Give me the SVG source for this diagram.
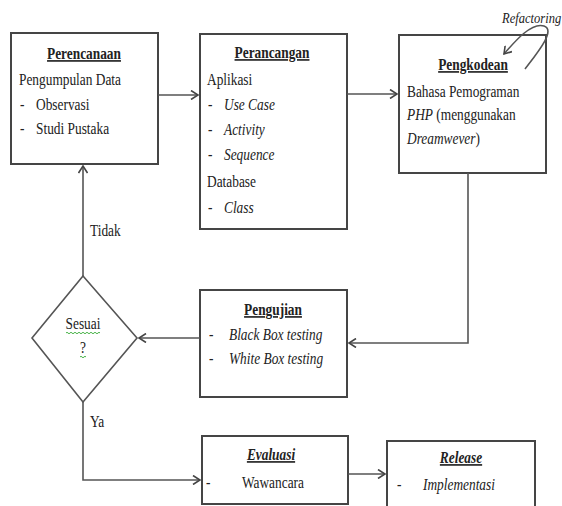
<svg xmlns="http://www.w3.org/2000/svg" width="562" height="506" viewBox="0 0 562 506">
<style>
.box{fill:#fff;stroke:#454545;stroke-width:2}
.ln{fill:none;stroke:#555;stroke-width:1.6}
text{font-family:'Liberation Serif','Times New Roman',serif;font-size:16.5px;fill:#222}
.h{font-weight:bold;text-decoration:underline;text-anchor:middle}
.hi{font-weight:bold;font-style:italic;text-decoration:underline;text-anchor:middle}
.i{font-style:italic}
.c{text-anchor:middle}
</style>
<defs>
<marker id="ah" markerWidth="10" markerHeight="10" refX="8" refY="5" orient="auto" markerUnits="userSpaceOnUse">
<path d="M1,0.5 L8,5 L1,9.5" fill="none" stroke="#444" stroke-width="1.6"/>
</marker>
</defs>
<rect width="562" height="506" fill="#fff"/>
<g id="perencanaan">
<rect class="box" x="11" y="33" width="147" height="131"/>
<text transform="translate(84,59) scale(0.81,1)" class="h">Perencanaan</text>
<text transform="translate(19,85) scale(0.81,1)">Pengumpulan Data</text>
<text transform="translate(20,110) scale(0.81,1)">-</text>
<text transform="translate(36,110) scale(0.81,1)">Observasi</text>
<text transform="translate(20,134) scale(0.81,1)">-</text>
<text transform="translate(36,134) scale(0.81,1)">Studi Pustaka</text>
</g>
<g id="perancangan">
<rect class="box" x="200" y="34" width="147" height="195"/>
<text transform="translate(272,58) scale(0.81,1)" class="h">Perancangan</text>
<text transform="translate(207,85) scale(0.81,1)">Aplikasi</text>
<text transform="translate(208,110) scale(0.81,1)">-</text>
<text transform="translate(224,110) scale(0.81,1)" class="i">Use Case</text>
<text transform="translate(208,135) scale(0.81,1)">-</text>
<text transform="translate(224,135) scale(0.81,1)" class="i">Activity</text>
<text transform="translate(208,160) scale(0.81,1)">-</text>
<text transform="translate(224,160) scale(0.81,1)" class="i">Sequence</text>
<text transform="translate(207,187) scale(0.81,1)">Database</text>
<text transform="translate(208,213) scale(0.81,1)">-</text>
<text transform="translate(224,213) scale(0.81,1)" class="i">Class</text>
</g>
<g id="pengkodean">
<rect class="box" x="399" y="35" width="147" height="138"/>
<text transform="translate(473,70) scale(0.81,1)" class="h">Pengkodean</text>
<text transform="translate(407,97) scale(0.81,1)">Bahasa Pemograman</text>
<text transform="translate(407,120) scale(0.81,1)"><tspan class="i">PHP</tspan> (menggunakan</text>
<text transform="translate(407,144) scale(0.81,1)"><tspan class="i">Dreamwever</tspan>)</text>
</g>
<g id="pengujian">
<rect class="box" x="200" y="290" width="147" height="107"/>
<text transform="translate(273,315) scale(0.81,1)" class="h">Pengujian</text>
<text transform="translate(209,340) scale(0.81,1)">-</text>
<text transform="translate(229,340) scale(0.81,1)" class="i">Black Box testing</text>
<text transform="translate(209,364) scale(0.81,1)">-</text>
<text transform="translate(229,364) scale(0.81,1)" class="i">White Box testing</text>
</g>
<g id="sesuai">
<path d="M83,276 L137,338 L83,402 L32,338 Z" fill="#fff" stroke="#555" stroke-width="1.6"/>
<text transform="translate(83,329) scale(0.81,1)" class="c">Sesuai</text>
<text transform="translate(83,353) scale(0.81,1)" class="c">?</text>
<path d="M66,333 q1,-1.5 2,0 t2,0 t2,0 t2,0 t2,0 t2,0 t2,0 t2,0 t2,0 t2,0 t2,0 t2,0 t2,0 t2,0 t2,0 t2,0 t2,0" fill="none" stroke="#3a3" stroke-width="0.9"/>
<path d="M80,357 q1,-1.5 2,0 t2,0 t2,0" fill="none" stroke="#3a3" stroke-width="0.9"/>
</g>
<g id="evaluasi">
<rect class="box" x="202" y="436" width="146" height="68"/>
<text transform="translate(271,460) scale(0.81,1)" class="hi">Evaluasi</text>
<text transform="translate(206,488) scale(0.81,1)">-</text>
<text transform="translate(242,488) scale(0.81,1)">Wawancara</text>
</g>
<g id="release">
<rect class="box" x="387" y="441" width="148" height="70"/>
<text transform="translate(461,463) scale(0.81,1)" class="hi">Release</text>
<text transform="translate(397,490) scale(0.81,1)">-</text>
<text transform="translate(423,490) scale(0.81,1)" class="i">Implementasi</text>
</g>
<g id="connectors">
<path class="ln" d="M158,95 L198,95" marker-end="url(#ah)"/>
<path class="ln" d="M347,94 L397,94" marker-end="url(#ah)"/>
<path class="ln" d="M468,173 L468,343 L349,343" marker-end="url(#ah)"/>
<path class="ln" d="M200,338 L139,338" marker-end="url(#ah)"/>
<path class="ln" d="M83,276 L83,166" marker-end="url(#ah)"/>
<path class="ln" d="M83,402 L83,480 L200,480" marker-end="url(#ah)"/>
<path class="ln" d="M348,474 L385,474" marker-end="url(#ah)"/>
<path class="ln" d="M525,69 C538,52 556,30 544,26 C532,22 516,40 504,54" marker-end="url(#ah)"/>
<text transform="translate(90,236) scale(0.81,1)">Tidak</text>
<text transform="translate(90,427) scale(0.81,1)">Ya</text>
<text transform="translate(502,23) scale(0.81,1)" class="i" style="font-size:15.5px">Refactoring</text>
</g>
</svg>
